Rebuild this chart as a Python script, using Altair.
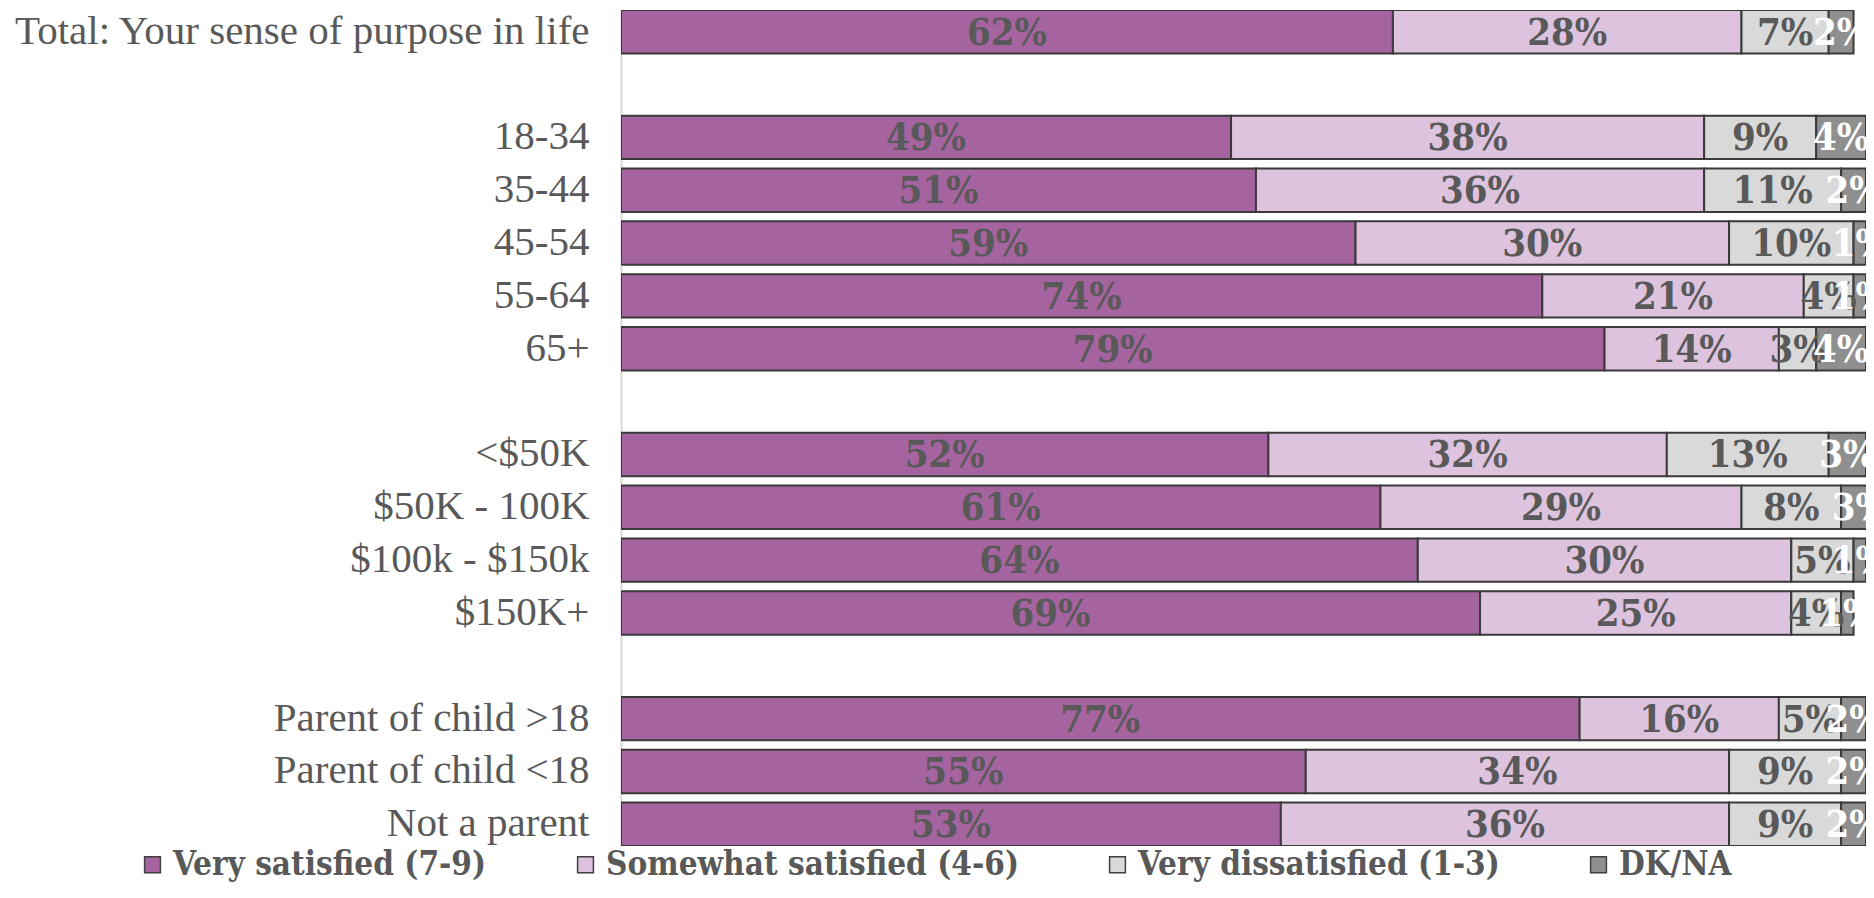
import altair as alt
import pandas as pd

categories = [
    "Total: Your sense of purpose in life\u00a0", " ",
    "18-34", "35-44", "45-54", "55-64", "65+", "  ",
    "<$50K", "$50K - 100K\u00a0", "$100k - $150k", "$150K+", "   ",
    "Parent of child >18", "Parent of child <18", "Not a parent\u00a0",
]
series_names = ["Very satisfied (7-9)", "Somewhat satisfied (4-6)",
                "Very dissatisfied (1-3)", "DK/NA"]
very_satisfied = [62, None, 49, 51, 59, 74, 79, None, 52, 61, 64, 69, None, 77, 55, 53]
somewhat_satisfied = [28, None, 38, 36, 30, 21, 14, None, 32, 29, 30, 25, None, 16, 34, 36]
very_dissatisfied = [7, None, 9, 11, 10, 4, 3, None, 13, 8, 5, 4, None, 5, 9, 9]
dk_na = [2, None, 4, 2, 1, 1, 4, None, 3, 3, 1, 1, None, 2, 2, 2]
colors = ["#A5649F", "#DEC3DE", "#D9D9D9", "#8F8F8F"]

rows = []
for i, cat in enumerate(categories):
    vals = [very_satisfied[i], somewhat_satisfied[i], very_dissatisfied[i], dk_na[i]]
    if vals[0] is None:
        continue
    start = 0
    for j, v in enumerate(vals):
        rows.append(dict(category=cat, series=series_names[j], order=j,
                         start=start, end=start + v, mid=start + v / 2,
                         label=f"{v}%"))
        start += v
df = pd.DataFrame(rows)

bold_font = "'DejaVu Serif Condensed', 'DejaVu Serif', serif"

yscale = alt.Scale(domain=categories, paddingInner=0.178, paddingOuter=0)
xscale = alt.Scale(domain=[0, 100], nice=False, zero=True)

y_enc = alt.Y("category:N", scale=yscale, sort=categories,
              axis=alt.Axis(title=None, ticks=False, domain=True,
                            domainColor="#d9d9d9", domainWidth=2,
                            labelFont="Liberation Serif", labelFontSize=41,
                            labelColor="#595959", labelPadding=32,
                            labelLimit=800))

bars = alt.Chart(df).mark_bar(stroke="#3a3a3a", strokeWidth=2, clip=True).encode(
    y=y_enc,
    x=alt.X("start:Q", scale=xscale, axis=None),
    x2="end:Q",
    color=alt.Color("series:N",
                    scale=alt.Scale(domain=series_names, range=colors),
                    legend=alt.Legend(title=None, orient="none",
                                      legendX=-485, legendY=838,
                                      direction="horizontal",
                                      symbolType="square", symbolSize=250,
                                      symbolStrokeColor="#404040",
                                      symbolStrokeWidth=1.5,
                                      labelFont=bold_font,
                                      labelFontWeight="bold",
                                      labelFontSize=33,
                                      labelColor="#595959",
                                      columnPadding=82, labelLimit=600,
                                      labelOffset=4, padding=0)),
    order=alt.Order("order:Q"),
)

labels = alt.Chart(df).mark_text(font=bold_font, fontWeight="bold",
                                 fontSize=38, baseline="middle",
                                 align="center", dy=2).encode(
    y=alt.Y("category:N", scale=yscale, sort=categories),
    x=alt.X("mid:Q", scale=xscale),
    text="label:N",
    color=alt.condition(alt.datum.series == "DK/NA",
                        alt.value("#ffffff"), alt.value("#595959")),
)

chart = alt.layer(bars, labels).properties(
    width=1245, height=836,
    autosize=alt.AutoSizeParams(type="none"),
    padding={"left": 613, "top": 2, "right": 0, "bottom": 38},
    background="white",
).configure_view(stroke=None)

chart.save("out.html", embed_options={"renderer": "svg", "actions": False})
